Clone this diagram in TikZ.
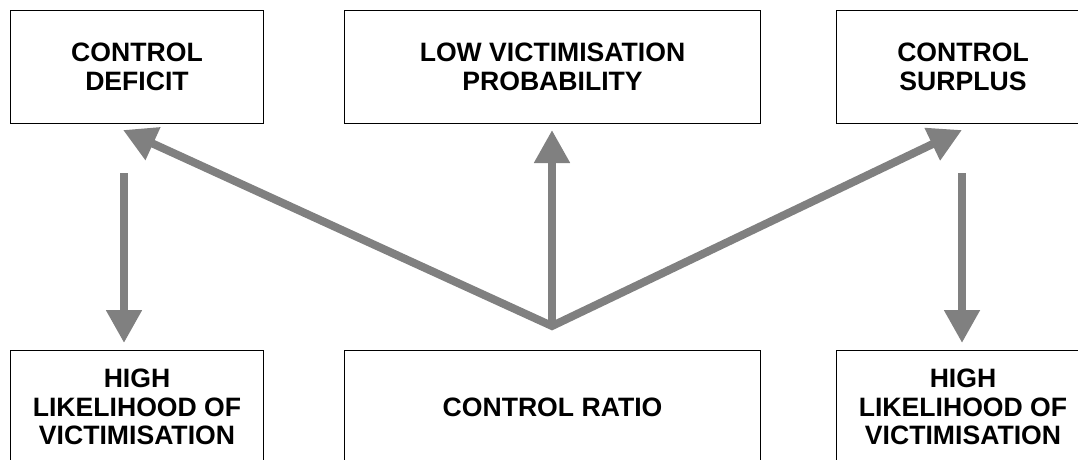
\documentclass[tikz,border=0pt]{standalone}
\usepackage{fontspec}
\setmainfont{Liberation Sans}
\usetikzlibrary{arrows.meta}
\definecolor{arrowgray}{RGB}{128,128,128}
\begin{document}
\begin{tikzpicture}[x=1pt,y=-1pt,
  box/.style={draw=black, line width=1pt, minimum width=253pt, minimum height=113pt,
    inner sep=0pt, align=center, anchor=north west,
    font=\fontsize{26.6}{28.5}\selectfont\bfseries},
  tipg/.tip={Triangle[width=34pt,length=33pt]},
  conn/.style={draw=arrowgray, line width=8pt, line join=miter}]
\useasboundingbox (0,0) rectangle (1078,459);
\clip (0,0) rectangle (1078,459);
% top row
\node[box] (deficit) at (10,10) {CONTROL\\DEFICIT};
\node[box, minimum width=416pt] (low) at (344,10) {LOW VICTIMISATION\\PROBABILITY};
\node[box] (surplus) at (836,10) {CONTROL\\SURPLUS};
% bottom row
\node[box] (highl) at (10,350) {HIGH\\LIKELIHOOD OF\\VICTIMISATION};
\node[box, minimum width=416pt] (ratio) at (344,350) {CONTROL RATIO};
\node[box] (highr) at (836,350) {HIGH\\LIKELIHOOD OF\\VICTIMISATION};
% connector points
\coordinate (apex) at (552,326);
\coordinate (tl) at (123,130);
\coordinate (tm) at (552,130);
\coordinate (tr) at (962,130);
\coordinate (ls) at (124,173);
\coordinate (le) at (124,343);
\coordinate (rs) at (962,173);
\coordinate (re) at (962,343);
% connectors
\draw[conn, tipg-tipg] (tl) -- (apex) -- (tr);
\draw[conn, -tipg] (apex) -- (tm);
\draw[conn, -tipg] (ls) -- (le);
\draw[conn, -tipg] (rs) -- (re);
\end{tikzpicture}
\end{document}
